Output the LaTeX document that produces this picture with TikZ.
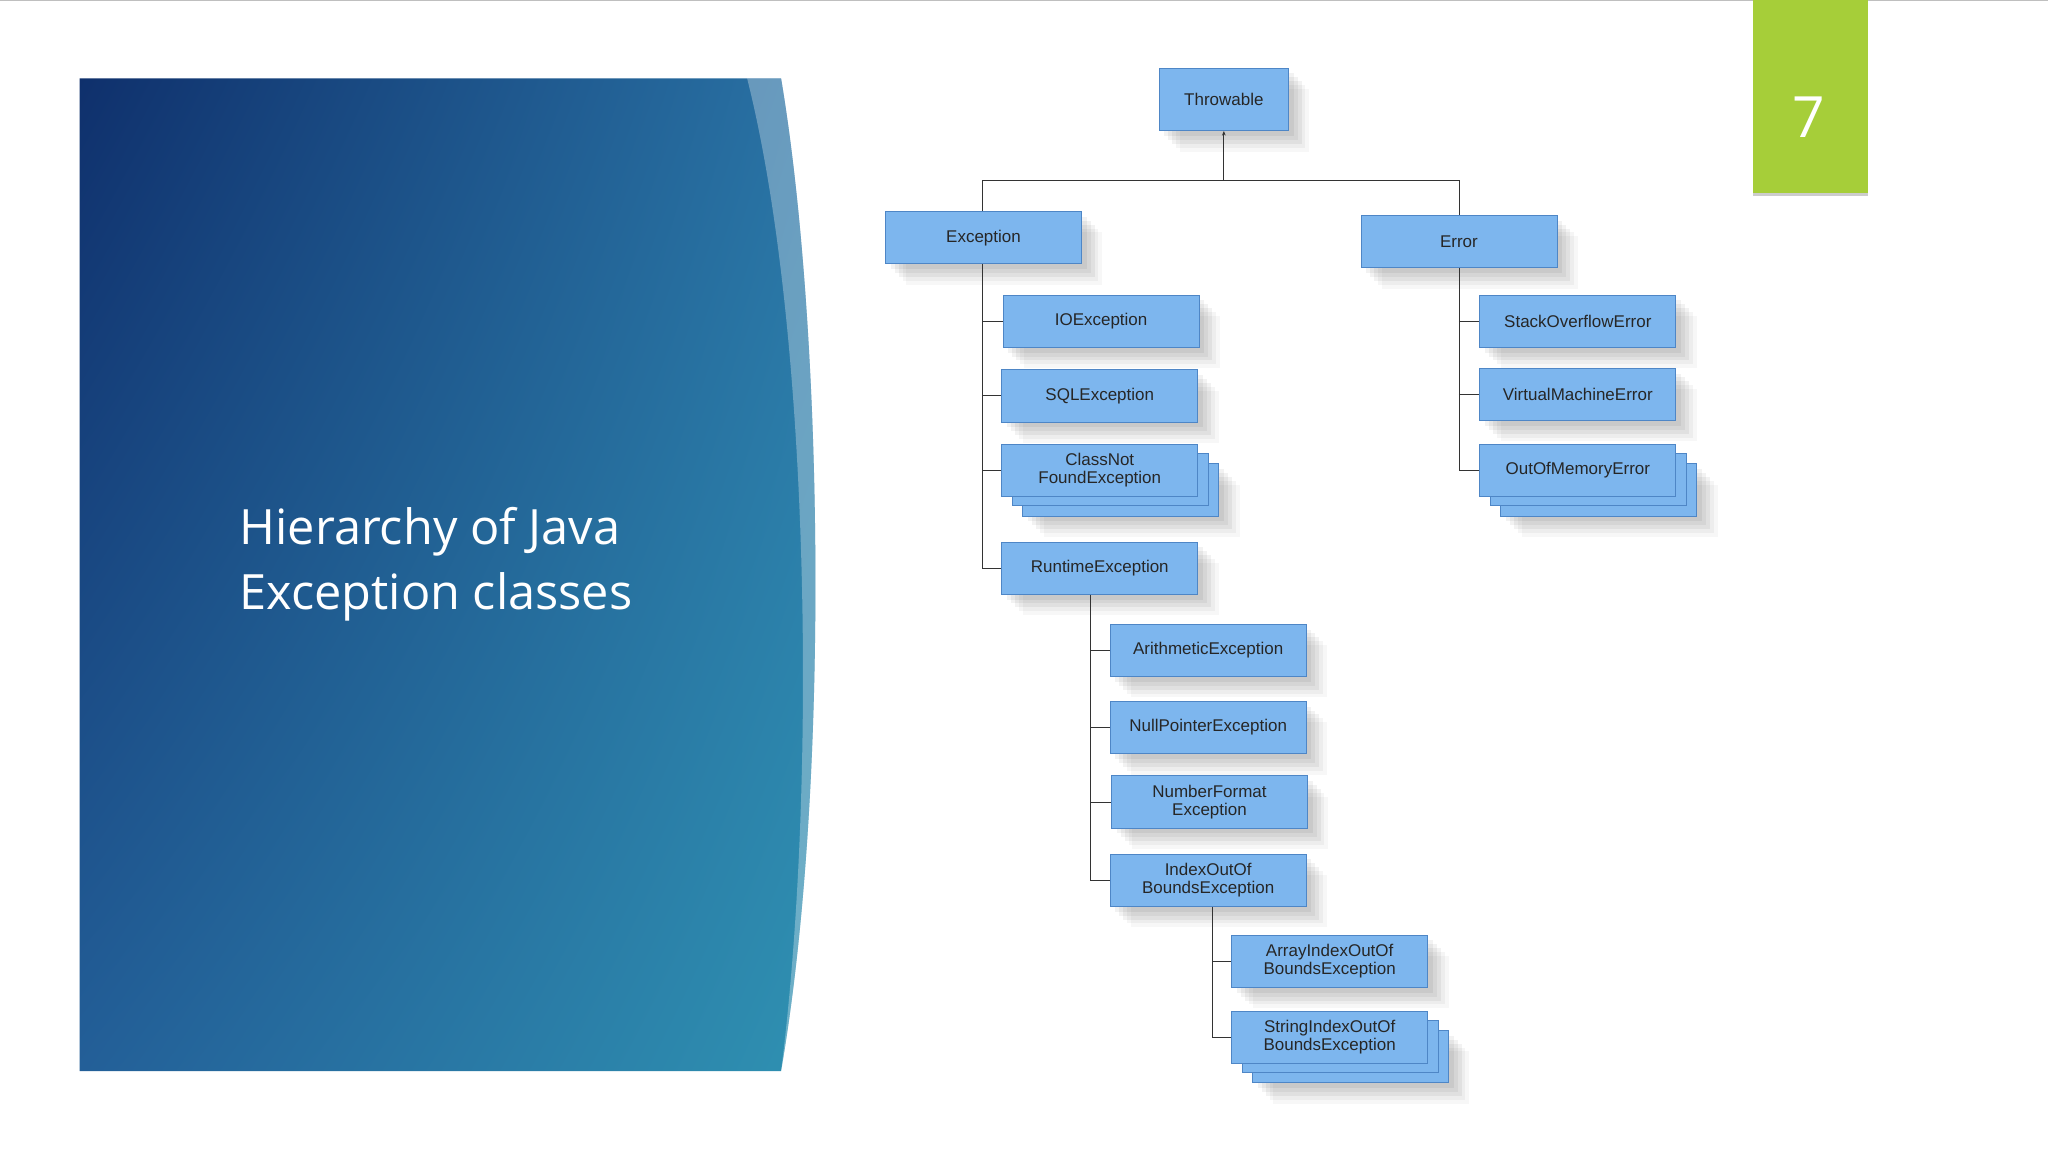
\documentclass[tikz,border=0pt]{standalone}
\usepackage{fontspec}
\setmainfont{Liberation Sans}
\newfontfamily\titlefont{Open Sans}
\usetikzlibrary{arrows.meta,shadings}
\definecolor{boxfill}{HTML}{7DB6EE}
\definecolor{boxdraw}{HTML}{4E86C6}
\definecolor{navy}{HTML}{0F306C}
\definecolor{teal}{HTML}{2F92B2}
\definecolor{ur}{HTML}{2A74A6}
\definecolor{ll}{HTML}{235F98}
\definecolor{lime}{HTML}{A6CE39}
\tikzset{
  plain/.style={draw=boxdraw,fill=boxfill,line width=0.8pt,minimum width=7.5cm,minimum height=2cm,
    align=center,inner sep=1pt,font=\fontsize{18.5}{20}\selectfont,text=black!85},
  cls/.style={plain,
    preaction={fill=black,opacity=0.05,transform canvas={shift={(0.2cm,-0.2cm)}}},
    preaction={fill=black,opacity=0.05,transform canvas={shift={(0.35cm,-0.35cm)}}},
    preaction={fill=black,opacity=0.05,transform canvas={shift={(0.5cm,-0.5cm)}}},
    preaction={fill=black,opacity=0.04,transform canvas={shift={(0.65cm,-0.65cm)}}},
    preaction={fill=black,opacity=0.03,transform canvas={shift={(0.8cm,-0.8cm)}}}},
  back/.style={cls},
  tree/.style={draw=black!80,line width=0.9pt}
}
\begin{document}
\begin{tikzpicture}[x=0.05cm,y=-0.05cm]
\useasboundingbox (0,0) rectangle (1568,882);
\fill[white] (0,0) rectangle (1568,882);
\draw[black!25,line width=0.5pt] (0,0.5) -- (1568,0.5);
% left panel
\shade[upper left=navy,upper right=ur,lower left=ll,lower right=teal]
  (61,60) -- (598,60) .. controls (630,250) and (636,600) .. (598,820) -- (61,820) -- cycle;
\fill[white,opacity=0.3] (572,60) -- (598,60) .. controls (630,250) and (636,600) .. (598,820)
  .. controls (626,600) and (620,250) .. (572,60) -- cycle;
\node[anchor=west,text=white,align=left,font=\titlefont\fontsize{53}{70}\selectfont] (title) at (181,432)
  {Hierarchy of Java\\Exception classes};
% page number
\fill[lime] (1342,0) rectangle (1430,148);
\fill[black!20] (1342,148) rectangle (1430,150);
\node[text=white,font=\titlefont\fontsize{62}{70}\selectfont] (num) at (1385,90) {7};
% boxes
\node[cls,minimum width=4.95cm,minimum height=2.4cm] (thr) at (937,76) {Throwable};
\node[cls] (exc) at (753,182) {Exception};
\node[cls] (err) at (1117,185) {Error};
\node[cls] (io) at (843,246) {IOException};
\node[cls] (sql) at (842,303) {SQLException};
\node[back] (cnf2) at (858,375) {};
\node[plain] (cnf1) at (850,367) {};
\node[plain] (cnf) at (842,360) {ClassNot\\FoundException};
\node[cls] (rt) at (842,435) {RuntimeException};
\node[cls] (ari) at (925,498) {ArithmeticException};
\node[cls] (np) at (925,557) {NullPointerException};
\node[cls] (nf) at (926,614) {NumberFormat\\Exception};
\node[cls] (ioob) at (925,674) {IndexOutOf\\BoundsException};
\node[cls] (aioob) at (1018,736) {ArrayIndexOutOf\\BoundsException};
\node[back] (sioob2) at (1034,809) {};
\node[plain] (sioob1) at (1026,801) {};
\node[plain] (sioob) at (1018,794) {StringIndexOutOf\\BoundsException};
\node[cls] (so) at (1208,246) {StackOverflowError};
\node[cls] (vm) at (1208,302) {VirtualMachineError};
\node[back] (oom2) at (1224,375) {};
\node[plain] (oom1) at (1216,367) {};
\node[plain] (oom) at (1208,360) {OutOfMemoryError};
% connectors
\coordinate (j) at (937,138);
\draw[tree,-{Stealth[length=5pt,width=4pt]}] (j) -- (thr.south);
\draw[tree] (exc.north -| 752,0) |- (j) -| (err.north);
\draw[tree] (exc.south -| 752,0) |- (rt.west);
\draw[tree] (752,0 |- io.west) -- (io.west);
\draw[tree] (752,0 |- sql.west) -- (sql.west);
\draw[tree] (752,0 |- cnf.west) -- (cnf.west);
\draw[tree] (err.south) |- (oom.west);
\draw[tree] (1117,0 |- so.west) -- (so.west);
\draw[tree] (1117,0 |- vm.west) -- (vm.west);
\draw[tree] (rt.south -| 835,0) |- (ioob.west);
\draw[tree] (835,0 |- ari.west) -- (ari.west);
\draw[tree] (835,0 |- np.west) -- (np.west);
\draw[tree] (835,0 |- nf.west) -- (nf.west);
\draw[tree] (ioob.south -| 928,0) |- (sioob.west);
\draw[tree] (928,0 |- aioob.west) -- (aioob.west);
\end{tikzpicture}
\end{document}
